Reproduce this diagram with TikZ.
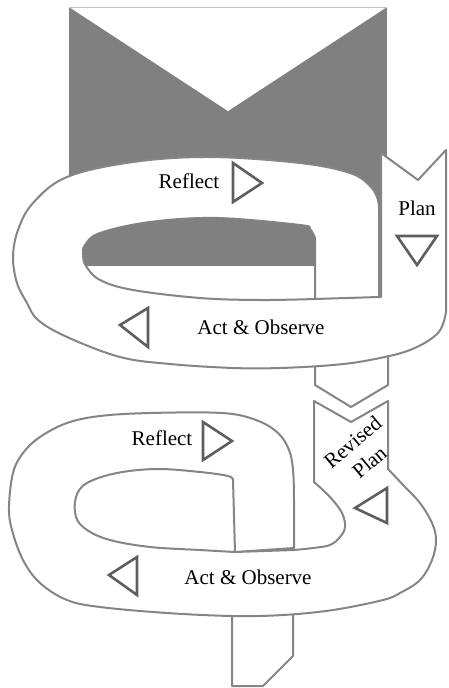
\documentclass[tikz,border=0pt]{standalone}
\usepackage{fontspec}
\setmainfont{Liberation Serif}
\definecolor{fillgray}{HTML}{808080}
\definecolor{linegray}{HTML}{858585}
\definecolor{trigray}{HTML}{5E5E5E}
\definecolor{topgray}{HTML}{C4C4C4}
\begin{document}
\begin{tikzpicture}[x=1pt,y=-1pt,
  outline/.style={draw=linegray, line width=2pt, line join=round},
  marker/.style={draw=trigray, line width=2.6pt, line join=miter},
  lbl/.style={font=\fontsize{21}{26}\selectfont, inner sep=0pt, text=black}]
\useasboundingbox (0,0) rectangle (449,688);

% background gray block with white V
\fill[fillgray] (69,7) rectangle (387,265);
\fill[white] (69,7) -- (228,111) -- (387,7) -- cycle;
\draw[topgray, line width=1pt] (69,7) -- (387,7);

% connector bar between loops
\draw[outline, fill=white] (315,340) -- (315,385) -- (351,407) -- (388,385) -- (388,340);

% loop 1 outer ribbon
\draw[outline, fill=white] (381,297) -- (381,153) -- (418,180) -- (446,150) -- (446,312)
  -- plot[smooth, tension=0.6] coordinates {(446,312) (438,333) (410,350) (370,360) (333,365) (280,368) (233,368) (170,364) (120,357) (67,337) (38,320) (27,303) (17,283) (13,257) (18,230) (33,203) (67,177) (133,162) (210,157) (300,163) (350,173) (370,186) (378,200) (379,215)}
  -- (379,297) -- cycle;

% loop 1 inner hole
\draw[outline, fill=white] (315,299) -- (315,238)
  -- plot[smooth, tension=0.6] coordinates {(315,238) (310,229) (300,225) (217,218) (150,222) (100,233) (85,245) (83,255) (86,266) (100,280) (133,290) (200,298) (260,300) (315,299)} -- cycle;
\begin{scope}
  \clip (0,0) rectangle (449,265);
  \fill[fillgray] (315,299) -- (315,238)
  -- plot[smooth, tension=0.6] coordinates {(315,238) (310,229) (300,225) (217,218) (150,222) (100,233) (85,245) (83,255) (86,266) (100,280) (133,290) (200,298) (260,300) (315,299)} -- cycle;
\end{scope}
\draw[outline] (315,299) -- (379,297);

% loop 1 labels and markers
\node[lbl] (r1) at (189,181) {Reflect};
\node[lbl] (a1) at (261,327) {Act \& Observe};
\node[lbl] (p1) at (417,208) {Plan};
\draw[marker] (233,163) -- (262,183) -- (233,202) -- cycle;
\draw[marker] (397,236) -- (437,236) -- (417,265) -- cycle;
\draw[marker] (148,308) -- (120,325) -- (148,347) -- cycle;

% loop 2
\draw[outline] (314,401) -- (351,422) -- (388,401) -- (388,469)
  -- plot[smooth, tension=0.6] coordinates {(388,469) (405,487) (420,503) (432,523) (436,540) (432,560) (420,580) (400,593) (383,600) (333,610) (283,615) (233,616) (167,613) (100,607) (67,600) (40,583) (23,560) (12,530) (9,507) (13,473) (23,453) (40,437) (67,423) (100,416) (150,413) (222,413) (256,420) (278,433) (289,450) (293,470) (294,500) (294,548)}
  -- (235,552) -- (233,480)
  -- plot[smooth, tension=0.6] coordinates {(233,480) (228,476) (200,472) (157,469) (117,473) (87,483) (76,497) (76,517) (87,530) (110,540) (150,547) (200,550) (235,552)}
  -- (294,550)
  -- plot[smooth, tension=0.6] coordinates {(294,550) (313,548) (330,545) (340,537) (345,527) (342,513) (330,497) (314,482)}
  -- cycle;

% exit bar
\draw[outline] (232,616) -- (232,686) -- (263,686) -- (293,656) -- (293,615);

% loop 2 labels and markers
\node[lbl] (r2) at (162,438) {Reflect};
\node[lbl] (a2) at (248,577) {Act \& Observe};
\node[lbl, align=center, rotate=40] (p2) at (361,452) {Revised\\Plan};
\draw[marker] (203,422) -- (232,441) -- (203,460) -- cycle;
\draw[marker] (387,488) -- (355,508) -- (387,523) -- cycle;
\draw[marker] (137,557) -- (109,575) -- (137,595) -- cycle;
\end{tikzpicture}
\end{document}
